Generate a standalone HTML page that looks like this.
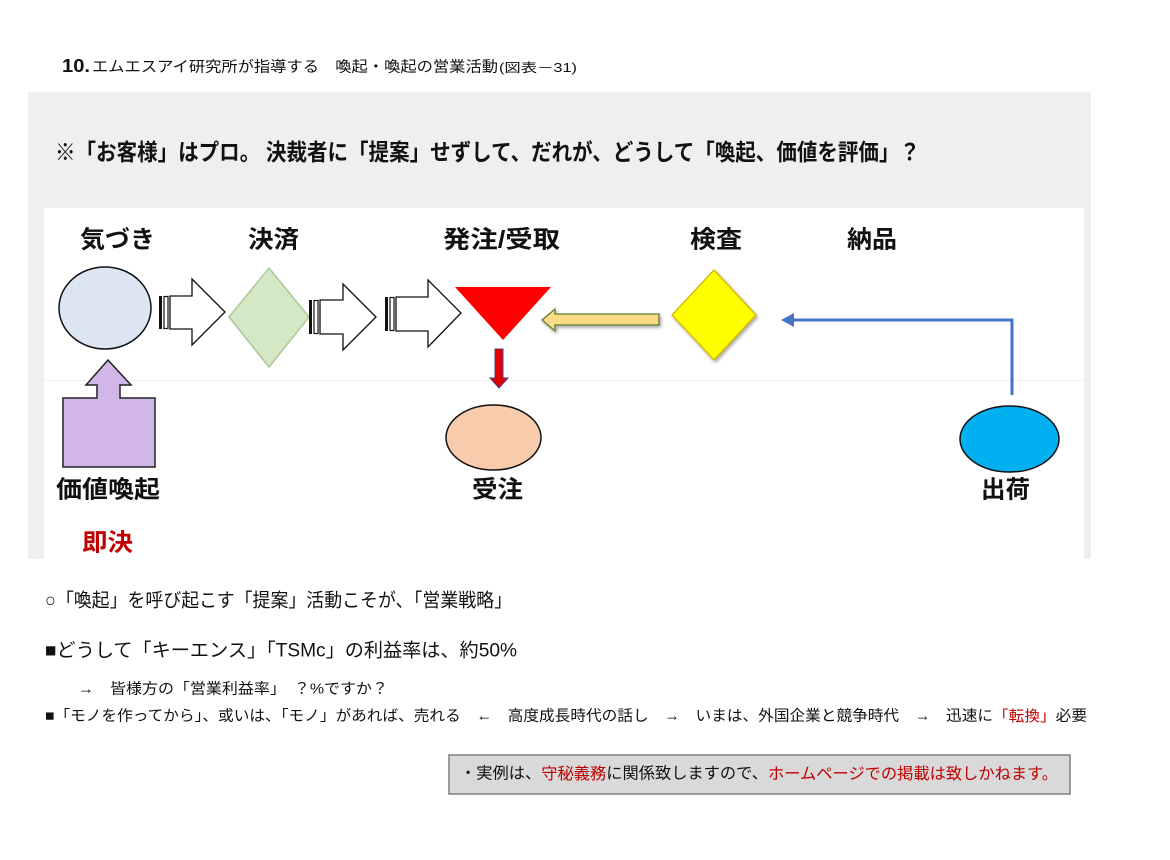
<!DOCTYPE html>
<html><head><meta charset="utf-8"><style>
html,body{margin:0;padding:0;background:#fff;width:1170px;height:860px;overflow:hidden}
svg{display:block}
text{font-family:"Liberation Sans","Noto Sans CJK JP",sans-serif;dominant-baseline:central;fill:#111}
.b{font-weight:700}
.r{fill:#c00000}
</style></head><body>
<svg width="1170" height="860" viewBox="0 0 1170 860" xmlns="http://www.w3.org/2000/svg">
<defs>
<filter id="sh" x="-20%" y="-20%" width="150%" height="150%">
<feDropShadow dx="1.5" dy="2" stdDeviation="1.5" flood-color="#000" flood-opacity="0.35"/>
</filter>
</defs>
<!-- title -->
<text x="62" y="66" font-size="18" class="b" textLength="28" lengthAdjust="spacingAndGlyphs">10.</text>
<text x="92" y="67" font-size="15" textLength="406" lengthAdjust="spacingAndGlyphs">エムエスアイ研究所が指導する　喚起・喚起の営業活動</text>
<text x="499" y="68" font-size="12.5" textLength="78" lengthAdjust="spacingAndGlyphs">(図表－31)</text>

<!-- gray panel -->
<rect x="28" y="92" width="1063" height="467" fill="#efefef"/>
<rect x="44" y="208" width="1040" height="351" fill="#ffffff"/>
<line x1="44" y1="380.5" x2="1084" y2="380.5" stroke="#f2f2f2" stroke-width="1"/>

<text x="55" y="152" font-size="23" class="b" textLength="865" lengthAdjust="spacingAndGlyphs">※「お客様」はプロ。 決裁者に「提案」せずして、だれが、どうして「喚起、価値を評価」？</text>

<!-- labels top -->
<text x="80" y="240" font-size="24" class="b" textLength="75" lengthAdjust="spacingAndGlyphs">気づき</text>
<text x="248" y="240" font-size="24" class="b" textLength="51" lengthAdjust="spacingAndGlyphs">決済</text>
<text x="443" y="240" font-size="24" class="b" textLength="117" lengthAdjust="spacingAndGlyphs">発注/受取</text>
<text x="690" y="240" font-size="24" class="b" textLength="52" lengthAdjust="spacingAndGlyphs">検査</text>
<text x="847" y="240" font-size="24" class="b" textLength="50" lengthAdjust="spacingAndGlyphs">納品</text>

<!-- ellipse 1 -->
<ellipse cx="105" cy="308" rx="46" ry="41" fill="#dce6f3" stroke="#111" stroke-width="1.5"/>

<!-- arrow 1 -->
<rect x="159" y="296" width="3" height="33" fill="#111"/>
<rect x="164" y="296.5" width="4" height="32" fill="#fff" stroke="#111" stroke-width="1.2"/>
<polygon points="170,296 192,296 192,279 225,312 192,345 192,329 170,329" fill="#fff" stroke="#111" stroke-width="1.3"/>

<!-- green diamond -->
<polygon points="269,268 309,317 269,367 229,317" fill="#d5e8c5" stroke="#a9c89a" stroke-width="1.5"/>

<!-- arrow 2 -->
<rect x="309" y="300" width="3" height="34" fill="#111"/>
<rect x="314" y="300.5" width="4" height="33" fill="#fff" stroke="#111" stroke-width="1.2"/>
<polygon points="320,300 343,300 343,284 376,317 343,350 343,334 320,334" fill="#fff" stroke="#111" stroke-width="1.3"/>

<!-- arrow 3 -->
<rect x="385" y="297" width="3" height="34" fill="#111"/>
<rect x="390" y="297.5" width="4" height="33" fill="#fff" stroke="#111" stroke-width="1.2"/>
<polygon points="396,297 428,297 428,280 461,313 428,347 428,331 396,331" fill="#fff" stroke="#111" stroke-width="1.3"/>

<!-- red triangle -->
<polygon points="455,287 551,287 503,340" fill="#ff0000"/>

<!-- red down arrow -->
<polygon points="495,349 503,349 503,378 508,378 499,388 490,378 495,378" fill="#e00000" stroke="#4b3f8a" stroke-width="1"/>

<!-- yellow left arrow -->
<polygon points="542,320 555,309 555,314 659,314 659,325 555,325 555,331" fill="#f9dc85" stroke="#5f7f2f" stroke-width="1.3" filter="url(#sh)"/>

<!-- yellow diamond -->
<polygon points="714,270 756,315 714,360 672,315" fill="#ffff00" stroke="#d6b600" stroke-width="1.3" filter="url(#sh)"/>

<!-- blue connector -->
<polyline points="1012,395 1012,320 792,320" fill="none" stroke="#4472c4" stroke-width="3"/>
<polygon points="781,320 794,313 794,327" fill="#4472c4"/>

<!-- purple up arrow box -->
<polygon points="108,360 131,385 120,385 120,398 155,398 155,467 63,467 63,398 97,398 97,385 86,385" fill="#d3b6e8" stroke="#222" stroke-width="1.5"/>

<!-- peach ellipse -->
<ellipse cx="493.5" cy="437.5" rx="47.5" ry="32.5" fill="#f8cbad" stroke="#111" stroke-width="1.5"/>

<!-- blue ellipse -->
<ellipse cx="1009.5" cy="439" rx="49.5" ry="33" fill="#00b0f0" stroke="#111" stroke-width="1.5"/>

<!-- bottom labels -->
<text x="56" y="490" font-size="24" class="b" textLength="104" lengthAdjust="spacingAndGlyphs">価値喚起</text>
<text x="472" y="490" font-size="24" class="b" textLength="51" lengthAdjust="spacingAndGlyphs">受注</text>
<text x="981" y="490" font-size="24" class="b" textLength="49" lengthAdjust="spacingAndGlyphs">出荷</text>
<text x="82" y="543" font-size="24" class="b r" textLength="51" lengthAdjust="spacingAndGlyphs">即決</text>

<!-- text lines -->
<text x="45" y="601" font-size="19" textLength="467" lengthAdjust="spacingAndGlyphs">○「喚起」を呼び起こす「提案」活動こそが、「営業戦略」</text>
<text x="45" y="651" font-size="19" textLength="472" lengthAdjust="spacingAndGlyphs">■どうして「キーエンス」「TSMc」の利益率は、約50%</text>
<text x="78" y="689" font-size="15" textLength="310" lengthAdjust="spacingAndGlyphs">→　皆様方の「営業利益率」　？%ですか？</text>
<text x="45" y="716" font-size="15" textLength="1042" lengthAdjust="spacingAndGlyphs">■「モノを作ってから」、或いは、「モノ」があれば、売れる　←　高度成長時代の話し　→　いまは、外国企業と競争時代　→　迅速に<tspan class="r">「転換」</tspan>必要</text>

<!-- note box -->
<rect x="449" y="755" width="621" height="39" fill="#d9d9d9" stroke="#7f7f7f" stroke-width="1.5"/>
<text x="460" y="774" font-size="16" textLength="598" lengthAdjust="spacingAndGlyphs">・実例は、<tspan class="r">守秘義務</tspan>に関係致しますので、<tspan class="r">ホームページでの掲載は致しかねます。</tspan></text>
</svg>
</body></html>
